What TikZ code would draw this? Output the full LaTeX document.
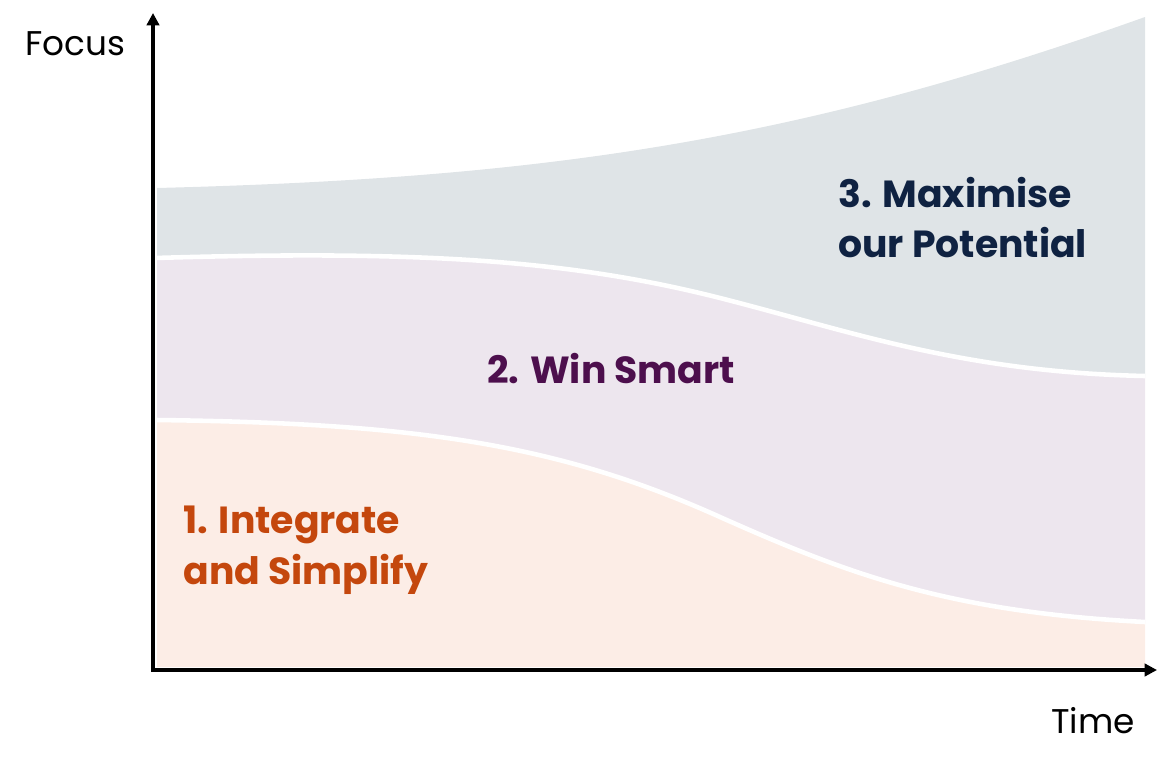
\documentclass[tikz,border=0pt]{standalone}
\usepackage{fontspec}
\setmainfont{Poppins}
\usepackage{tikz}
\usetikzlibrary{arrows.meta, positioning}

\definecolor{greyband}{HTML}{DFE4E7}
\definecolor{purpleband}{HTML}{EDE6EE}
\definecolor{orangeband}{HTML}{FCEDE6}
\definecolor{orangetext}{HTML}{C4470D}
\definecolor{purpletext}{HTML}{4D0F4D}
\definecolor{navytext}{HTML}{0F2242}

\begin{document}
\begin{tikzpicture}[
                x=0.02cm, y=-0.02cm,
                axis/.style={line width=2pt, {Triangle[length=7pt, width=7pt]}-{Triangle[length=7pt, width=7pt]}},
                edge/.style={white, line width=2.6pt},
                phase/.style={align=left, inner sep=0pt, font=\fontsize{21.5}{28.6}\selectfont\bfseries},
                axislabel/.style={inner sep=0pt, font=\fontsize{19.5}{24}\selectfont}]
            \useasboundingbox (0,0) rectangle (1169,767);

            % Bands
            \fill[greyband] (157,188) .. controls (550,178) and (800,140) .. (1145,17)
                -- (1145,376) .. controls (960,372) and (850,331) .. (720,298)
                .. controls (570,260) and (420,250) .. (157,258) -- cycle;
            \fill[purpleband] (157,258) .. controls (420,250) and (570,260) .. (720,298)
                .. controls (850,331) and (960,372) .. (1145,376)
                -- (1145,622) .. controls (950,612) and (850,575) .. (720,517)
                .. controls (560,445) and (420,423) .. (157,420) -- cycle;
            \fill[orangeband] (157,420) .. controls (420,423) and (560,445) .. (720,517)
                .. controls (850,575) and (950,612) .. (1145,622)
                -- (1145,667) -- (157,667) -- cycle;

            % Separations
            \draw[edge] (155,258) .. controls (420,250) and (570,260) .. (720,298)
                .. controls (850,331) and (960,372) .. (1145,376);
            \draw[edge] (155,420) .. controls (420,423) and (560,445) .. (720,517)
                .. controls (850,575) and (950,612) .. (1145,622);

            % Axes
            \coordinate (origin) at (153,670);
            \coordinate (ytop) at (153,13);
            \coordinate (xend) at (1157,670);
            \draw[axis] (ytop) -- (origin) -- (xend);

            \node[axislabel] (focus) at (75,44) {Focus};
            \node[axislabel] (time) at (1093,721) {Time};

            % Phases
            \node[phase, text=orangetext, anchor=north west] (integrate) at (183,506) {1. Integrate\\and Simplify};
            \node[phase, text=purpletext, anchor=base west] (winsmart) at (487,383) {2. Win Smart};
            \node[phase, text=navytext, anchor=north west] (maximise) at (838,177) {3. Maximise\\our Potential};

        \end{tikzpicture}
\end{document}
